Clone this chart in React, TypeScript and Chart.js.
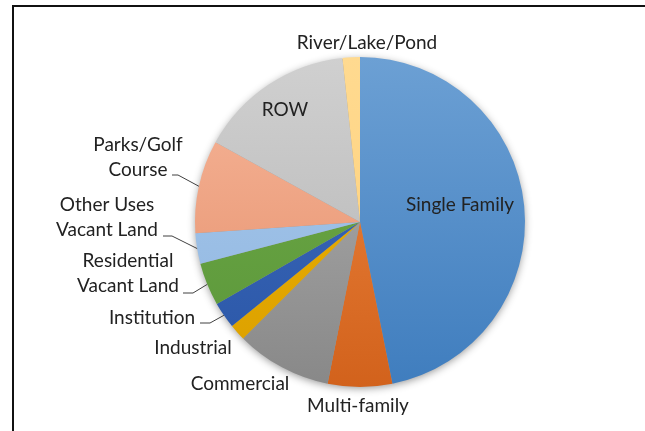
import React, { useEffect, useRef } from "react";
import { Chart, registerables } from "chart.js";

Chart.register(...registerables);

const categories = [
  "Single Family",
  "Multi-family",
  "Commercial",
  "Industrial",
  "Institution",
  "Residential Vacant Land",
  "Other Uses Vacant Land",
  "Parks/Golf Course",
  "ROW",
  "River/Lake/Pond",
];

const shares = [46.9, 6.3, 9.4, 1.6, 2.6, 4.2, 3.0, 9.1, 15.3, 1.7];

const colorsTop = [
  "#6ca0d4", "#ef8842", "#b2b2b2", "#eeb200", "#3f6cbf",
  "#70ab47", "#a9c9ec", "#f7b79b", "#d0d0d0", "#ffda90",
];
const colorsBottom = [
  "#3f7dbe", "#d2621c", "#888888", "#dba000", "#2a56a6",
  "#5a963a", "#8fb6e0", "#e48d68", "#b3b3b3", "#ffcf78",
];

// label layout: text lines, offset of the label centre from pie centre, optional leader
const labelLayout = [
  { lines: ["Single Family"], dx: 100, dy: -17 },
  { lines: ["Multi-family"], dx: -2, dy: 184 },
  { lines: ["Commercial"], dx: -120, dy: 162 },
  { lines: ["Industrial"], dx: -167, dy: 126 },
  { lines: ["Institution"], dx: -208, dy: 96, leader: [-160, 101, -150] },
  { lines: ["Residential", "Vacant Land"], dx: -232, dy: 39, leader: [-177, 71, -167] },
  { lines: ["Other Uses", "Vacant Land"], dx: -253, dy: -17, leader: [-197, 14, -188] },
  { lines: ["Parks/Golf", "Course"], dx: -222, dy: -77, leader: [-188, -47, -182] },
  { lines: ["ROW"], dx: -75, dy: -112 },
  { lines: ["River/Lake/Pond"], dx: 7, dy: -179 },
];

const FONT = "19px Lato";
const LINE_H = 25;

const shadowPlugin = {
  id: "pieShadow",
  beforeDatasetsDraw(chart: any) {
    const meta = chart.getDatasetMeta(0);
    const arc = meta.data[0];
    if (!arc) return;
    const { x, y, outerRadius } = arc.getProps(["x", "y", "outerRadius"], true);
    const ctx = chart.ctx;
    ctx.save();
    ctx.shadowColor = "rgba(0,0,0,0.45)";
    ctx.shadowBlur = 9;
    ctx.shadowOffsetY = 2;
    ctx.beginPath();
    ctx.arc(x, y, outerRadius - 1, 0, Math.PI * 2);
    ctx.fillStyle = "#999";
    ctx.fill();
    ctx.restore();
  },
};

const labelPlugin = {
  id: "pieLabels",
  afterDatasetsDraw(chart: any) {
    const meta = chart.getDatasetMeta(0);
    const ctx = chart.ctx;
    ctx.save();
    ctx.font = FONT;
    ctx.fillStyle = "#222222";
    ctx.textAlign = "center";
    ctx.textBaseline = "middle";
    meta.data.forEach((arc: any, i: number) => {
      const lay = labelLayout[i];
      if (!lay) return;
      const { x, y, startAngle, endAngle, outerRadius } = arc.getProps(
        ["x", "y", "startAngle", "endAngle", "outerRadius"],
        true
      );
      lay.lines.forEach((t, k) => {
        ctx.fillText(t, x + lay.dx, y + lay.dy + k * LINE_H);
      });
      if (lay.leader) {
        const mid = (startAngle + endAngle) / 2;
        const ex = x + Math.cos(mid) * outerRadius;
        const ey = y + Math.sin(mid) * outerRadius;
        ctx.beginPath();
        ctx.strokeStyle = "#404040";
        ctx.lineWidth = 1;
        ctx.moveTo(x + lay.leader[0], y + lay.leader[1]);
        ctx.lineTo(x + lay.leader[2], y + lay.leader[1]);
        ctx.lineTo(ex, ey);
        ctx.stroke();
      }
    });
    ctx.restore();
  },
};

export default function App() {
  const ref = useRef<HTMLCanvasElement | null>(null);

  useEffect(() => {
    if (!ref.current) return;
    const chart = new Chart(ref.current, {
      type: "pie",
      data: {
        labels: categories,
        datasets: [
          {
            data: shares,
            borderWidth: 0,
            backgroundColor: (c: any) => {
              const i = c.dataIndex;
              const area = c.chart.chartArea;
              if (!area) return colorsTop[i];
              const g = c.chart.ctx.createLinearGradient(0, area.top, 0, area.bottom);
              g.addColorStop(0, colorsTop[i]);
              g.addColorStop(1, colorsBottom[i]);
              return g;
            },
          },
        ],
      },
      options: {
        responsive: false,
        animation: false,
        layout: { padding: { left: 195, right: 120, top: 57, bottom: 44 } },
        plugins: {
          legend: { display: false },
          tooltip: { enabled: false },
          title: { display: false },
        },
      },
      plugins: [shadowPlugin, labelPlugin],
    });
    return () => chart.destroy();
  }, []);

  return (
    <div style={{ position: "absolute", left: 0, top: 0, width: 645, height: 431, background: "#fff", overflow: "hidden" }}>
      <div
        style={{
          position: "absolute",
          left: 12,
          top: 5,
          width: 700,
          height: 500,
          borderLeft: "2px solid #111",
          borderTop: "2px solid #111",
        }}
      />
      <canvas ref={ref} width={645} height={431} style={{ position: "absolute", left: 0, top: 0 }} />
    </div>
  );
}
